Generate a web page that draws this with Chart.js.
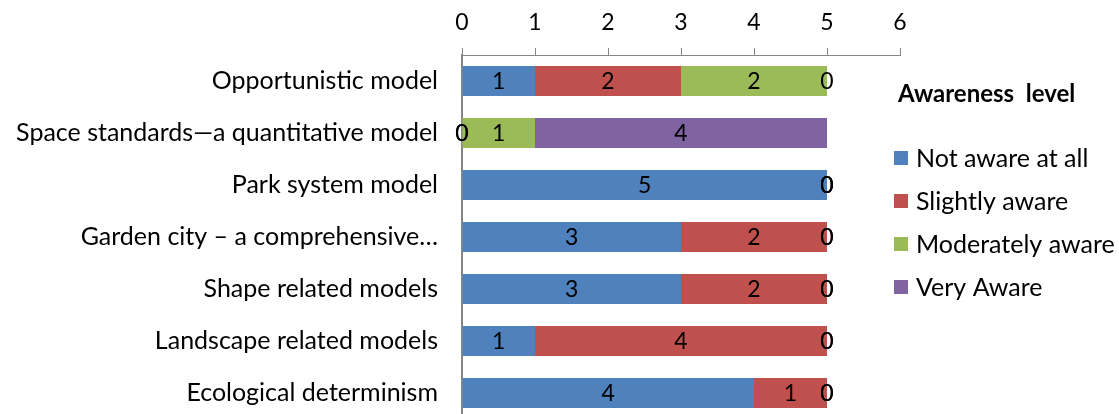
<!DOCTYPE html>
<html>
<head>
<meta charset="utf-8">
<script src="https://cdn.jsdelivr.net/npm/chart.js@4"></script>
<style>
  html, body { margin: 0; padding: 0; background: #fff; overflow: hidden; }
  canvas { display: block; }
</style>
</head>
<body>
<canvas id="chart" width="1119" height="420"></canvas>
<script>
const categories = [
  'Opportunistic model',
  'Space standards\u2014a quantitative model',
  'Park system model',
  'Garden city \u2013 a comprehensive\u2026',
  'Shape related models',
  'Landscape related models',
  'Ecological determinism'
];
const notAware       = [1, 0, 5, 3, 3, 1, 4];
const slightlyAware  = [2, 0, 0, 2, 2, 4, 1];
const moderatelyAware= [2, 1, 0, 0, 0, 0, 0];
const veryAware      = [0, 4, 0, 0, 0, 0, 0];
const seriesNames = ['Not aware at all', 'Slightly aware', 'Moderately aware', 'Very Aware'];
const xTicks = [0, 1, 2, 3, 4, 5, 6];
const legendTitle = 'Awareness  level';

const FONT = 'Lato, Carlito, Calibri, sans-serif';
const colors = ['#4F81BD', '#C0504D', '#9BBB59', '#8064A2'];
const seriesData = [notAware, slightlyAware, moderatelyAware, veryAware];

// Value labels centred on each stacked segment (zero-width segments included)
const segmentLabels = {
  id: 'segmentLabels',
  afterDatasetsDraw(chart) {
    const ctx = chart.ctx;
    ctx.save();
    ctx.font = '23px ' + FONT;
    ctx.fillStyle = '#000';
    ctx.textAlign = 'center';
    ctx.textBaseline = 'middle';
    chart.data.datasets.forEach((ds, di) => {
      chart.getDatasetMeta(di).data.forEach((bar, i) => {
        const cx = (bar.x + bar.base) / 2;
        ctx.fillText(String(ds.data[i]), cx, bar.y + 1);
      });
    });
    ctx.restore();
  }
};

// Legend panel with title on the right
const sideLegend = {
  id: 'sideLegend',
  afterDraw(chart) {
    const ctx = chart.ctx;
    ctx.save();
    ctx.textBaseline = 'middle';
    ctx.textAlign = 'left';
    ctx.fillStyle = '#000';
    ctx.font = 'bold 24px ' + FONT;
    ctx.fillText(legendTitle, 898, 94);
    ctx.font = '25px ' + FONT;
    const ys = [158, 201, 244, 287];
    seriesNames.forEach((name, i) => {
      ctx.fillStyle = colors[i];
      ctx.fillRect(894, ys[i] - 7, 14, 14);
      ctx.fillStyle = '#000';
      ctx.fillText(name, 916, ys[i] + 1);
    });
    ctx.restore();
  }
};

new Chart(document.getElementById('chart'), {
  type: 'bar',
  data: {
    labels: categories,
    datasets: seriesData.map((d, i) => ({
      label: seriesNames[i],
      data: d,
      backgroundColor: colors[i],
      borderWidth: 0,
      barPercentage: 0.58,
      categoryPercentage: 1.0
    }))
  },
  options: {
    indexAxis: 'y',
    responsive: false,
    animation: false,
    layout: { padding: { left: 0, right: 219, top: 0, bottom: 1 } },
    plugins: { legend: { display: false }, tooltip: { enabled: false } },
    scales: {
      x: {
        position: 'top',
        stacked: true,
        min: 0,
        max: 6,
        afterBuildTicks(scale) { scale.ticks = xTicks.map(v => ({ value: v })); },
        afterFit(scale) { scale.height = 55; },
        ticks: { color: '#000', font: { family: FONT, size: 23 }, padding: 12 },
        grid: { drawOnChartArea: false, tickLength: 7, color: '#868686' },
        border: { color: '#868686', width: 1 }
      },
      y: {
        stacked: true,
        afterFit(scale) {
          scale.width = 462;
          scale.paddingTop = 0;
          scale.paddingBottom = 0;
        },
        ticks: { color: '#000', font: { family: FONT, size: 25 }, padding: 24 },
        grid: { drawOnChartArea: false, drawTicks: false },
        border: { color: '#868686', width: 2 }
      }
    }
  },
  plugins: [segmentLabels, sideLegend]
});
</script>
</body>
</html>
